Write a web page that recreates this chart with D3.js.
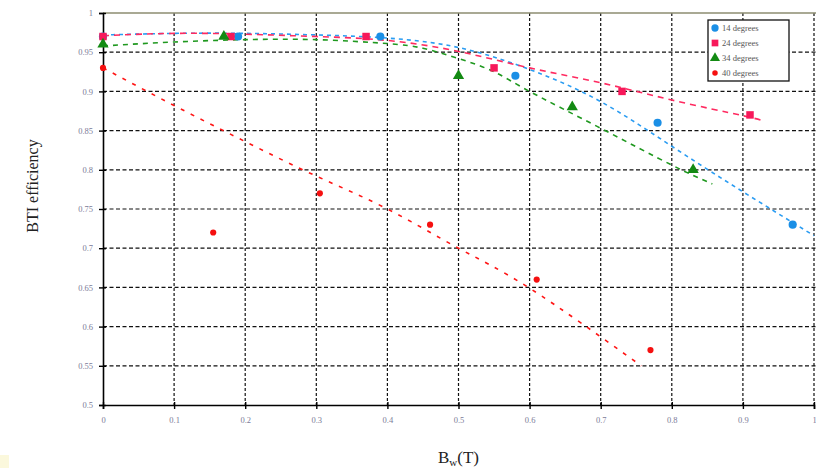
<!DOCTYPE html>
<html><head><meta charset="utf-8">
<script src="https://cdn.jsdelivr.net/npm/d3@7"></script>
<style>body{margin:0;background:#fff}svg{display:block}</style>
</head><body>
<svg id="c" width="816" height="468"></svg>
<script>
// ---- data ----
const xTicks = [0,0.1,0.2,0.3,0.4,0.5,0.6,0.7,0.8,0.9,1];
const xTickLabels = ["0","0.1","0.2","0.3","0.4","0.5","0.6","0.7","0.8","0.9","1"];
const yTicks = [0.5,0.55,0.6,0.65,0.7,0.75,0.8,0.85,0.9,0.95,1];
const yTickLabels = ["0.5","0.55","0.6","0.65","0.7","0.75","0.8","0.85","0.9","0.95","1"];
const seriesNames = ["14 degrees","24 degrees","34 degrees","40 degrees"];

const x14 = [0, 0.19, 0.39, 0.58, 0.78, 0.97];
const y14 = [0.97, 0.97, 0.97, 0.92, 0.86, 0.73];
const x24 = [0, 0.18, 0.37, 0.55, 0.73, 0.91];
const y24 = [0.97, 0.97, 0.97, 0.93, 0.90, 0.87];
const x34 = [0, 0.17, 0.50, 0.66, 0.83];
const y34 = [0.96, 0.97, 0.92, 0.88, 0.80];
const x40 = [0, 0.155, 0.305, 0.46, 0.61, 0.77];
const y40 = [0.93, 0.72, 0.77, 0.73, 0.66, 0.57];

// trend lines
const t14x = [0,0.1,0.2,0.3,0.4,0.5,0.6,0.7,0.8,0.9,1.0];
const t14y = [0.972,0.974,0.974,0.972,0.968,0.956,0.928,0.887,0.830,0.772,0.716];
const t24x = [0,0.1,0.2,0.3,0.4,0.5,0.6,0.7,0.8,0.9,0.93];
const t24y = [0.971,0.974,0.973,0.970,0.965,0.951,0.930,0.911,0.889,0.869,0.862];
const t34x = [0,0.1,0.2,0.3,0.4,0.45,0.5,0.55,0.6,0.7,0.8,0.857];
const t34y = [0.958,0.963,0.966,0.966,0.961,0.955,0.942,0.925,0.900,0.853,0.806,0.782];
const t40x = [0,0.1,0.2,0.3,0.4,0.5,0.6,0.757];
const t40y = [0.93,0.882,0.836,0.792,0.75,0.70,0.649,0.55];

// ---- chart ----
const svg = d3.select("#c");
const x = d3.scaleLinear().domain([0,1]).range([103,814]);
const y = d3.scaleLinear().domain([0.5,1]).range([405,13]);
const serif = "'Liberation Serif','DejaVu Serif',serif";

// grid
const g = svg.append("g");
g.selectAll(".hg").data(yTicks.filter(v=>v>0.5 && v<1)).join("line")
  .attr("x1",x(0)).attr("x2",x(1)+2).attr("y1",d=>y(d)).attr("y2",d=>y(d))
  .attr("stroke","#111").attr("stroke-width",1.2).attr("stroke-dasharray","4,2.5");
g.selectAll(".vg").data(xTicks.filter(v=>v>0)).join("line")
  .attr("x1",d=>x(d)).attr("x2",d=>x(d)).attr("y1",y(1)).attr("y2",y(0.5))
  .attr("stroke","#111").attr("stroke-width",1.2).attr("stroke-dasharray","3,2");

// top border
svg.append("line").attr("x1",x(0)).attr("x2",816).attr("y1",y(1)).attr("y2",y(1))
  .attr("stroke","#8c8c70").attr("stroke-width",1.3);

// axes
const xAxis = d3.axisBottom(x).tickValues(xTicks).tickFormat((d,i)=>xTickLabels[i]).tickSize(4).tickPadding(8);
const yAxis = d3.axisLeft(y).tickValues(yTicks).tickFormat((d,i)=>yTickLabels[i]).tickSize(4).tickPadding(6);
const gx = svg.append("g").attr("transform",`translate(0,${y(0.5)})`).call(xAxis);
const gy = svg.append("g").attr("transform",`translate(${x(0)},0)`).call(yAxis);
[gx,gy].forEach(a=>{
  a.select(".domain").attr("stroke","#000").attr("stroke-width",1.6);
  a.selectAll(".tick line").attr("stroke","#000").attr("stroke-width",1.4);
  a.selectAll(".tick text").attr("fill","#7b7b98").attr("font-family",serif).attr("font-size",8.5);
});
gx.selectAll(".tick line").attr("y1",-3);
gy.selectAll(".tick line").attr("x1",3);

// trend lines
const line = d3.line().x(d=>x(d[0])).y(d=>y(d[1])).curve(d3.curveNatural);
const trends = [
  {xs:t14x, ys:t14y, c:"#2a9cf2", dash:"4,4"},
  {xs:t24x, ys:t24y, c:"#ff2a60", dash:"6,5"},
  {xs:t34x, ys:t34y, c:"#1f981f", dash:"5,5"},
  {xs:t40x, ys:t40y, c:"#ff1515", dash:"4,7"}
];
trends.forEach(t=>{
  svg.append("path").datum(t.xs.map((v,i)=>[v,t.ys[i]]))
    .attr("d",line).attr("fill","none").attr("stroke",t.c)
    .attr("stroke-width",1.6).attr("stroke-dasharray",t.dash);
});

// markers
const sym = [
  {xs:x14, ys:y14, c:"#1a8fe6", type:d3.symbolCircle, size:52},
  {xs:x24, ys:y24, c:"#f7185a", type:d3.symbolSquare, size:56},
  {xs:x34, ys:y34, c:"#138a13", type:d3.symbolTriangle, size:55},
  {xs:x40, ys:y40, c:"#f51010", type:d3.symbolCircle, size:30}
];
sym.forEach(s=>{
  svg.append("g").selectAll("path").data(s.xs.map((v,i)=>[v,s.ys[i]])).join("path")
    .attr("transform",d=>`translate(${x(d[0])},${y(d[1])})`)
    .attr("d",d3.symbol().type(s.type).size(s.size)).attr("fill",s.c);
});

// legend
const lg = svg.append("g");
lg.append("rect").attr("x",708).attr("y",20).attr("width",81).attr("height",61)
  .attr("fill","#fff").attr("stroke","#111").attr("stroke-width",1.3);
seriesNames.forEach((n,i)=>{
  const yy = 28 + i*15;
  lg.append("path").attr("transform",`translate(715,${yy})`)
    .attr("d",d3.symbol().type(sym[i].type).size(sym[i].size*0.8)).attr("fill",sym[i].c);
  lg.append("text").attr("x",722).attr("y",yy+3).text(n)
    .attr("font-family",serif).attr("font-size",8.5).attr("fill","#555");
});

// axis titles
svg.append("text").attr("transform","translate(38,186) rotate(-90)")
  .attr("text-anchor","middle").attr("font-family",serif).attr("font-size",16)
  .attr("fill","#222").text("BTI efficiency");
const xt = svg.append("text").attr("x",438).attr("y",463).attr("font-family",serif)
  .attr("font-size",17).attr("fill","#222");
xt.append("tspan").text("B");
xt.append("tspan").attr("font-size",11).attr("dy",3).text("w");
xt.append("tspan").attr("dy",-3).text("(T)");

// corner artifact
svg.append("rect").attr("x",0).attr("y",455).attr("width",9).attr("height",13).attr("fill","#fbf8dc");
</script>
</body></html>
